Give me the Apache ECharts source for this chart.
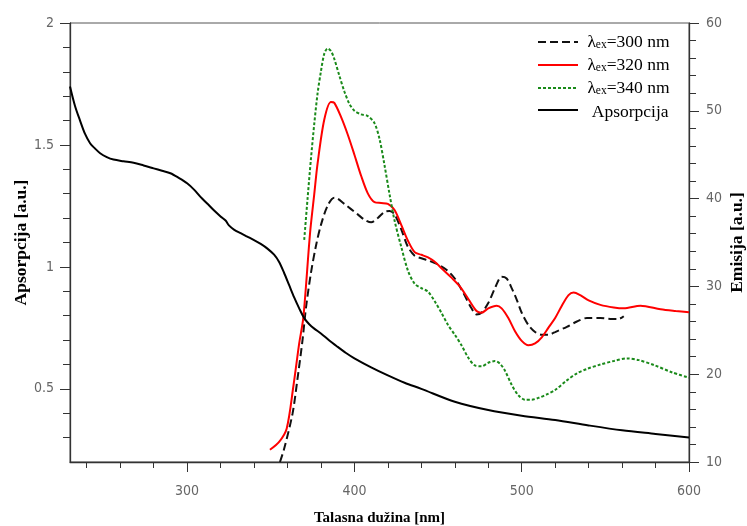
<!DOCTYPE html>
<html>
<head>
<meta charset="utf-8">
<script src="https://cdn.jsdelivr.net/npm/echarts@6/dist/echarts.min.js"></script>
<style>html,body{margin:0;padding:0;background:#fff}#c{width:747px;height:526px}</style>
</head>
<body>
<div id="c"></div>
<script>
// Absorption (left axis)
const absWl  = [230,233,236,239,242,245,248,252,256,262,268,274,280,285,290,295,300,304,308,312,316,320,323,325,328,332,336,340,344,348,352,355,358,361,364,367,370,373,376,380,385,390,395,400,410,420,430,440,460,480,500,520,540,560,580,600];
const absVal = [1.74,1.66,1.60,1.545,1.507,1.485,1.466,1.45,1.44,1.433,1.427,1.416,1.404,1.394,1.384,1.365,1.343,1.318,1.287,1.26,1.232,1.207,1.19,1.17,1.153,1.138,1.124,1.11,1.094,1.075,1.05,1.02,0.975,0.925,0.875,0.83,0.79,0.765,0.747,0.727,0.698,0.672,0.647,0.625,0.588,0.555,0.525,0.50,0.447,0.413,0.39,0.372,0.35,0.33,0.315,0.30];
// Emission λex=300 nm (right axis)
const ex300Wl  = [355.5,358,363,366,369,371,374,377,380,384,388,390,394,398,402,406,410,414,418,421,424,428,432,436,440,445,450,455,460,465,470,473,476,480,484,488,491,494,497,500,504,508,512,516,520,527,533,539,547,553,558,561];
const ex300Val = [10,11.5,15.5,19.5,23.9,27.5,31.5,34.6,37,39.2,40.1,40,39.4,38.8,38.2,37.6,37.3,37.8,38.5,38.6,38.2,36.5,34.5,33.5,33.2,32.9,32.5,31.9,30.9,29.3,27.5,26.8,27,28.1,29.8,31.1,30.9,29.8,28.5,27,25.6,24.8,24.5,24.5,24.8,25.4,26,26.4,26.4,26.3,26.3,26.6];
// Emission λex=320 nm
const ex320Wl  = [349.5,355,359.5,363.5,367,369.5,373.5,376,378,382,386,388,392,396,400,404,408,412,416,420,424,428,432,436,440,444,448,453,458,463,468,473,476,480,485,488,492,496,500,504,508,512,516,520,524,528,531,535,540,547,555,561,571,583,592,600];
const ex320Val = [11.4,12.3,13.8,18.6,23.5,26.5,36.1,40.5,44,49,51,50.9,49.3,47.3,45,42.6,40.6,39.6,39.5,39.4,38.7,37,35.2,33.9,33.6,33.3,32.8,31.9,31,30,28.6,27.2,27,27.5,27.8,27.5,26.4,24.9,23.8,23.3,23.5,24.2,25.3,26.4,27.8,29,29.3,29,28.4,27.9,27.6,27.5,27.8,27.4,27.2,27.05];
// Emission λex=340 nm
const ex340Wl  = [370,372,374,376,378,380,382,384,386,388,391,394,397,400,404,408,412,415,418,421,424,428,432,436,440,444,448,452,456,460,464,468,472,476,480,484,487,490,494,498,502,506,510,515,520,527,533,539,547,555,563,570,579,590,600];
const ex340Val = [35.3,40,44.5,48.5,52,54.5,56.5,57.1,56.8,55.9,54,52.2,50.8,50,49.6,49.4,48.6,46.8,43.8,40.5,37.5,34.5,31.8,30.3,29.8,29.4,28.3,27,25.6,24.5,23.3,21.9,21,20.9,21.3,21.5,21.2,20.4,18.8,17.6,17.1,17.1,17.3,17.7,18.2,19.3,20.1,20.6,21.1,21.5,21.8,21.6,21.05,20.2,19.6];

const xMajor = [300,400,500,600];
const xMinor = [240,260,280,320,340,360,380,420,440,460,480,520,540,560,580];
const yLeftMajor = [0.5,1,1.5,2];
const yLeftMinor = [0.3,0.4,0.6,0.7,0.8,0.9,1.1,1.2,1.3,1.4,1.6,1.7,1.8,1.9];
const yRightMajor = [10,20,30,40,50,60];
const yRightMinor = [12,14,16,18,22,24,26,28,32,34,36,38,42,44,46,48,52,54,56,58];

const names = ['λex=300 nm','λex=320 nm','λex=340 nm','Apsorpcija'];

function pairs(xs, ys){ return xs.map((x,i)=>[x, ys[i]]); }

const serif = "'Liberation Serif','Times New Roman',serif";
const tickFont = {fontFamily:"'Liberation Sans Narrow','Arial Narrow','DejaVu Sans Condensed',sans-serif", fontSize:14, color:'#666'};
const nameFont = {fontFamily:serif, fontWeight:'bold', fontSize:15, color:'#000'};
const nameFontV = {fontFamily:serif, fontWeight:'bold', fontSize:17.5, color:'#000'};
const axisCol = '#333';

const chart = echarts.init(document.getElementById('c'), null, {renderer:'canvas'});
chart.setOption({
  animation:false,
  backgroundColor:'#fff',
  grid:{left:70, right:58, top:23, bottom:64, show:true, borderColor:'#555', borderWidth:1, outerBoundsMode:'none', containLabel:false},
  legend:{
    orient:'vertical', left:532, top:25, itemGap:2, itemWidth:40, itemHeight:18,
    data:names,
    itemStyle:{opacity:0},
    formatter:function(n){
      if(n.charAt(0)==='λ'){ return '{l| λ}{s|ex}{l|' + n.slice(3) + '}'; }
      return '{a|  ' + n + '}';
    },
    textStyle:{
      rich:{
        l:{fontFamily:serif, fontSize:17.5, color:'#000', lineHeight:18},
        a:{fontFamily:serif, fontSize:17.5, color:'#000', lineHeight:18, padding:[4,0,0,0]},
        s:{fontFamily:serif, fontSize:11.5, color:'#000', lineHeight:18, verticalAlign:'bottom', padding:[9,0,0,0]}
      }
    }
  },
  xAxis:[
    {type:'value', min:230, max:600, position:'bottom',
     name:'Talasna dužina [nm]', nameLocation:'middle', nameGap:49, nameTextStyle:nameFont, nameMoveOverlap:false,
     axisLine:{show:true, lineStyle:{color:axisCol, width:1.3}},
     axisTick:{show:true, length:10, customValues:xMajor, lineStyle:{color:axisCol}},
     axisLabel:{show:true, margin:22, customValues:xMajor, ...tickFont},
     splitLine:{show:false}},
    {type:'value', min:230, max:600, position:'bottom',
     axisLine:{show:false},
     axisTick:{show:true, length:6, customValues:xMinor, lineStyle:{color:axisCol}},
     axisLabel:{show:false}, splitLine:{show:false}}
  ],
  yAxis:[
    {type:'value', min:0.2, max:2, position:'left',
     name:'Apsorpcija [a.u.]', nameLocation:'middle', nameGap:40, nameRotate:90, nameTextStyle:nameFontV, nameMoveOverlap:false,
     axisLine:{show:true, lineStyle:{color:axisCol, width:1.3}},
     axisTick:{show:true, length:10, customValues:yLeftMajor, lineStyle:{color:axisCol}},
     axisLabel:{show:true, margin:16, customValues:yLeftMajor, ...tickFont},
     splitLine:{show:false}},
    {type:'value', min:0.2, max:2, position:'left',
     axisLine:{show:false},
     axisTick:{show:true, length:7, customValues:yLeftMinor, lineStyle:{color:axisCol}},
     axisLabel:{show:false}, splitLine:{show:false}},
    {type:'value', min:10, max:60, position:'right',
     name:'Emisija [a.u.]', nameLocation:'middle', nameGap:39, nameRotate:90, nameTextStyle:nameFontV, nameMoveOverlap:false,
     axisLine:{show:true, lineStyle:{color:axisCol, width:1.3}},
     axisTick:{show:true, length:10, customValues:yRightMajor, lineStyle:{color:axisCol}},
     axisLabel:{show:true, margin:17, customValues:yRightMajor, ...tickFont},
     splitLine:{show:false}},
    {type:'value', min:10, max:60, position:'right',
     axisLine:{show:false},
     axisTick:{show:true, length:7, customValues:yRightMinor, lineStyle:{color:axisCol}},
     axisLabel:{show:false}, splitLine:{show:false}}
  ],
  series:[
    {name:names[0], type:'line', xAxisIndex:0, yAxisIndex:2, data:pairs(ex300Wl, ex300Val),
     smooth:0.3, symbol:'none', showSymbol:false, clip:true,
     lineStyle:{color:'#111', width:2, type:[8,4]}, itemStyle:{color:'#111'}},
    {name:names[1], type:'line', xAxisIndex:0, yAxisIndex:2, data:pairs(ex320Wl, ex320Val),
     smooth:0.3, symbol:'none', showSymbol:false, clip:true,
     lineStyle:{color:'#ff0000', width:2}, itemStyle:{color:'#ff0000'}},
    {name:names[2], type:'line', xAxisIndex:0, yAxisIndex:2, data:pairs(ex340Wl, ex340Val),
     smooth:0.3, symbol:'none', showSymbol:false, clip:true,
     lineStyle:{color:'#1a8a1a', width:2, type:[3,2]}, itemStyle:{color:'#1a8a1a'}},
    {name:names[3], type:'line', xAxisIndex:0, yAxisIndex:0, data:pairs(absWl, absVal),
     smooth:0.3, symbol:'none', showSymbol:false, clip:true,
     lineStyle:{color:'#000', width:2}, itemStyle:{color:'#000'}}
  ]
});
</script>
</body>
</html>
